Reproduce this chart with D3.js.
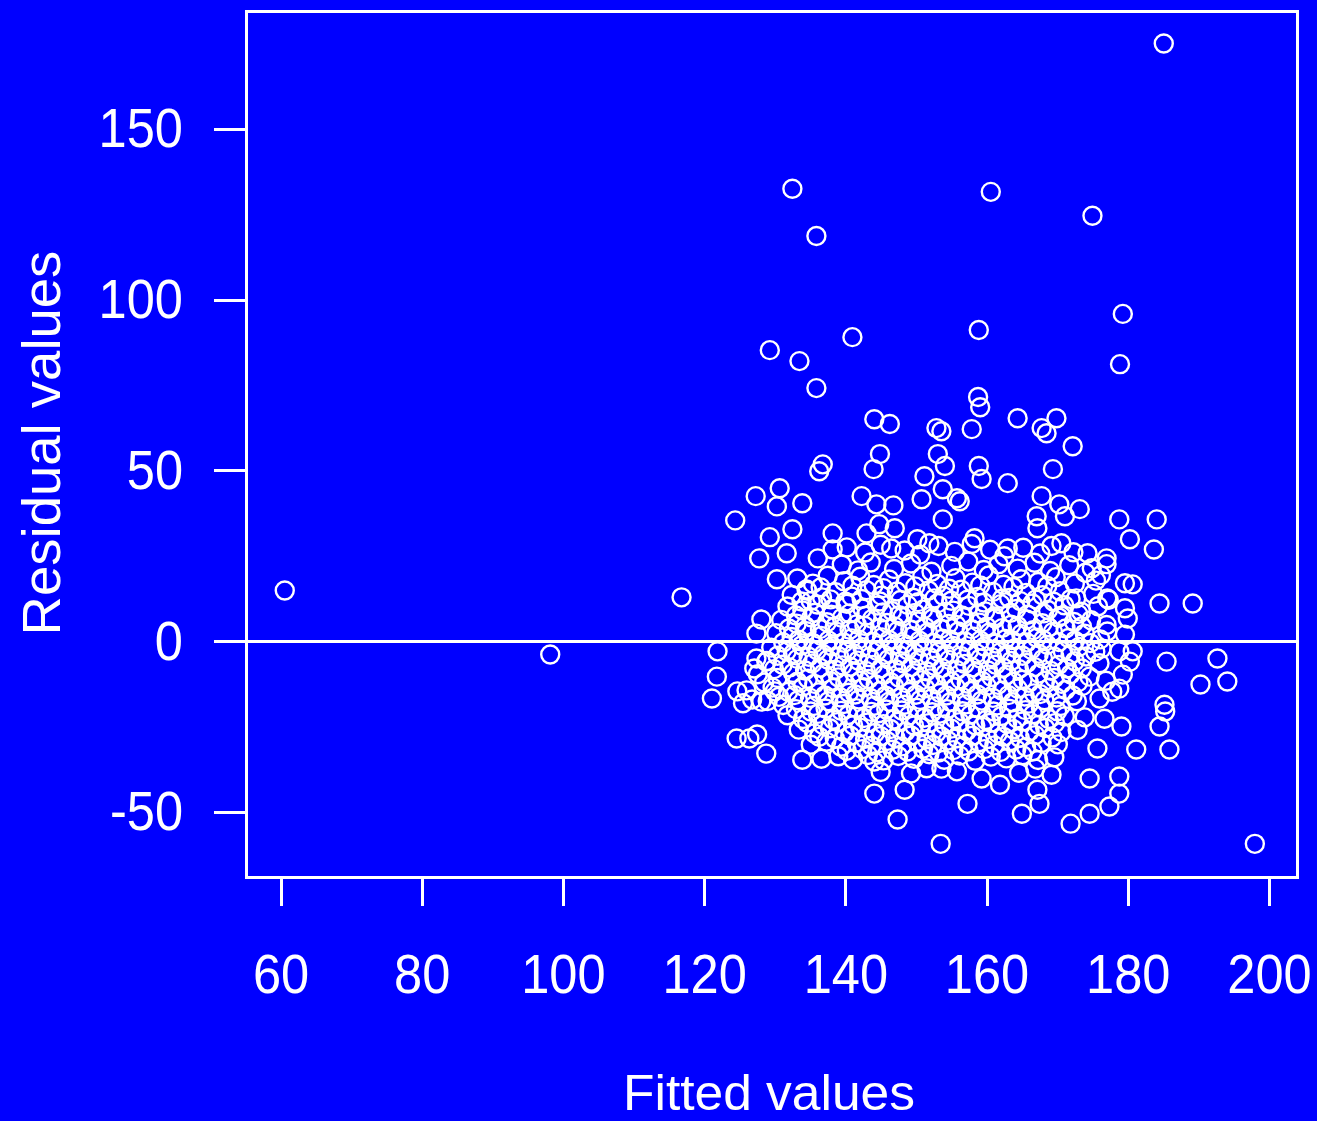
<!DOCTYPE html>
<html>
<head>
<meta charset="utf-8">
<script src="https://cdn.jsdelivr.net/npm/d3@7"></script>
<style>
  html, body { margin: 0; padding: 0; background: #0000ff; overflow: hidden; }
  svg { display: block; }
  text { font-family: "Liberation Sans", Arial, Helvetica, sans-serif; fill: #ffffff; }
</style>
</head>
<body>
<svg id="chart" width="1317" height="1121"></svg>
<script>
// Residuals vs fitted values: each pair is [fitted, residual].

const fittedTicks = [60, 80, 100, 120, 140, 160, 180, 200];
const residualTicks = [-50, 0, 50, 100, 150];

// isolated observations far from the main cloud
const outlierPoints = [
  [60.6, 14.9], [98.2, -3.8], [116.8, 12.9], [185.1, 174.9], [132.5, 132.4],
  [160.6, 131.5], [135.9, 118.6], [175.0, 124.5], [179.3, 95.8], [158.9, 91.1],
  [141.0, 89.0], [129.3, 85.2], [133.5, 82.0], [178.9, 81.1], [135.9, 74.1],
  [158.8, 71.5], [159.1, 68.5], [198.0, -59.2], [153.5, -59.2]
];

// sparse band above the cloud (residual 20 to 70)
const upperPoints = [
  [144.1, 65.0], [146.3, 63.6], [152.9, 62.4], [153.6, 61.5], [157.9, 62.1],
  [164.4, 65.3], [169.9, 65.3], [167.8, 62.4], [168.5, 60.9], [172.2, 57.1],
  [144.9, 54.8], [144.0, 50.4], [136.8, 51.8], [136.3, 49.8], [153.1, 54.8],
  [154.1, 51.3], [158.9, 51.3], [159.3, 47.5], [151.2, 48.3], [163.0, 46.3],
  [169.4, 50.4], [130.7, 44.8], [127.3, 42.5], [130.3, 39.5], [133.9, 40.4],
  [142.3, 42.5], [144.4, 40.1], [150.8, 41.6], [153.8, 44.5], [155.8, 41.9],
  [156.2, 41.0], [146.8, 39.8], [167.8, 42.5], [170.3, 40.1], [167.1, 36.6],
  [171.1, 36.6], [124.4, 35.4], [153.8, 35.7], [147.0, 33.1], [167.2, 33.1],
  [129.3, 30.5], [132.5, 32.8], [138.2, 31.6], [143.0, 31.6], [144.8, 34.3],
  [150.2, 29.9], [151.9, 28.7], [158.3, 30.2], [163.0, 27.2], [170.6, 28.7],
  [146.5, 27.2], [127.8, 24.3], [131.7, 25.8], [138.2, 26.9], [136.1, 24.3],
  [173.2, 38.7], [178.8, 35.7], [184.1, 35.7], [180.3, 29.9], [183.7, 26.9],
  [174.3, 25.8], [177.0, 24.3],
  [140.2, 27.5], [142.8, 26.0], [145.0, 28.3], [148.4, 26.6], [150.6, 25.4],
  [153.2, 27.9], [155.5, 26.2], [157.9, 28.5], [160.5, 26.8], [162.5, 24.9],
  [165.2, 27.4], [167.6, 25.7], [169.2, 27.9], [172.3, 26.1]
];

// dense central cloud (residual about -40 to 22)
const corePoints = [
  [139.5, 22.5], [141.8, 20.8], [143.6, 23.1], [146.9, 21.2], [149.3, 22.8], [152.2, 20.4],
  [155.0, 22.1], [157.4, 23.4], [159.6, 20.9], [161.7, 22.6], [164.4, 21.3], [166.8, 23.0],
  [169.0, 20.6], [171.7, 22.3], [174.0, 20.1], [176.2, 19.4],

  [133.2, 18.4], [135.4, 16.9], [137.5, 19.2], [139.8, 17.6], [142.1, 18.9], [144.0, 16.5],
  [146.2, 18.1], [148.5, 17.0], [150.9, 19.0], [153.0, 16.8], [155.6, 18.5], [158.0, 17.2],
  [160.3, 19.3], [162.4, 16.6], [164.9, 18.2], [167.3, 17.4], [169.8, 18.8], [172.5, 16.9],
  [175.5, 17.8],

  [132.4, 13.6], [134.6, 14.8], [136.7, 12.9], [138.6, 14.4], [140.9, 13.1], [143.0, 15.0],
  [145.1, 13.4], [147.3, 14.6], [149.6, 12.8], [151.8, 14.9], [153.9, 13.3], [156.4, 15.1],
  [158.7, 13.0], [160.9, 14.5], [163.2, 12.7], [165.6, 14.2], [167.9, 13.5], [170.4, 14.7],
  [172.7, 12.6], [175.1, 13.9], [177.3, 12.2],

  [131.8, 10.2], [133.9, 9.1], [136.0, 10.8], [138.1, 9.4], [140.2, 11.0], [142.4, 9.6],
  [144.5, 10.5], [146.6, 8.9], [148.8, 10.7], [151.0, 9.3], [153.1, 11.2], [155.3, 9.0],
  [157.5, 10.4], [159.8, 8.8], [162.0, 10.9], [164.2, 9.5], [166.5, 11.1], [168.7, 9.2],
  [171.0, 10.6], [173.4, 8.7], [175.8, 10.3],

  [130.9, 6.3], [133.1, 5.2], [135.2, 7.0], [137.4, 5.6], [139.5, 6.9], [141.6, 5.0],
  [143.8, 6.6], [145.9, 5.4], [148.1, 7.2], [150.3, 5.8], [152.4, 6.8], [154.6, 5.1],
  [156.8, 7.1], [159.0, 5.5], [161.2, 6.7], [163.5, 4.9], [165.7, 6.4], [167.9, 5.3],
  [170.2, 7.0], [172.4, 5.7], [174.8, 6.2], [177.0, 4.8],

  [130.2, 2.4], [132.4, 1.3], [134.5, 3.0], [136.6, 1.6], [138.8, 2.8], [140.9, 0.9],
  [143.1, 2.5], [145.2, 1.2], [147.4, 3.1], [149.5, 1.5], [151.7, 2.7], [153.8, 0.8],
  [156.0, 2.9], [158.2, 1.4], [160.4, 2.6], [162.7, 0.7], [164.9, 2.2], [167.1, 1.1],
  [169.4, 2.8], [171.6, 1.0], [173.9, 2.3], [176.1, 0.6],

  [129.5, -1.8], [131.7, -2.9], [133.8, -1.2], [136.0, -2.6], [138.1, -1.4], [140.2, -3.0],
  [142.4, -1.7], [144.5, -2.8], [146.7, -1.1], [148.8, -2.5], [151.0, -1.6], [153.2, -3.1],
  [155.3, -1.3], [157.5, -2.7], [159.7, -1.5], [161.9, -3.2], [164.1, -1.9], [166.3, -2.4],
  [168.6, -1.0], [170.8, -2.9], [173.1, -1.6], [175.4, -3.0],

  [128.9, -5.7], [131.1, -6.8], [133.2, -5.1], [135.3, -6.5], [137.5, -5.3], [139.6, -7.0],
  [141.8, -5.6], [143.9, -6.9], [146.1, -5.2], [148.2, -6.4], [150.4, -5.5], [152.6, -7.1],
  [154.7, -5.4], [156.9, -6.6], [159.1, -5.0], [161.3, -6.8], [163.5, -5.7], [165.7, -6.3],
  [168.0, -5.1], [170.2, -6.9], [172.5, -5.8], [176.0, -6.4],

  [127.6, -9.6], [130.4, -10.7], [132.6, -9.2], [134.7, -10.9], [136.9, -9.4], [139.0, -10.5],
  [141.2, -9.1], [143.3, -11.0], [145.5, -9.7], [147.6, -10.6], [149.8, -9.3], [152.0, -10.8],
  [154.1, -9.5], [156.3, -11.1], [158.5, -9.0], [160.7, -10.4], [162.9, -9.8], [165.1, -11.2],
  [167.4, -9.4], [169.6, -10.7], [171.9, -9.6], [176.9, -11.5],

  [126.0, -14.3], [129.7, -13.5], [131.9, -14.7], [134.0, -13.2], [136.2, -14.9], [138.3, -13.6],
  [140.5, -15.0], [142.6, -13.4], [144.8, -14.6], [146.9, -13.1], [149.1, -14.8], [151.3, -13.7],
  [153.4, -15.1], [155.6, -13.3], [157.8, -14.5], [160.0, -13.0], [162.2, -14.4], [164.4, -13.8],
  [166.7, -15.2], [168.9, -13.5], [171.2, -14.2], [173.6, -13.0], [177.8, -14.7],

  [125.5, -18.1], [129.0, -17.4], [131.2, -18.6], [133.3, -17.2], [135.5, -18.9], [137.6, -17.5],
  [139.8, -18.3], [141.9, -17.0], [144.1, -18.8], [146.2, -17.6], [148.4, -18.5], [150.6, -17.1],
  [152.7, -19.0], [154.9, -17.7], [157.1, -18.4], [159.3, -17.3], [161.5, -18.7], [163.7, -17.8],
  [166.0, -18.2], [168.2, -17.2], [170.5, -18.9], [172.8, -17.5],

  [131.8, -21.6], [134.0, -22.7], [136.1, -21.2], [138.3, -22.9], [140.4, -21.5], [142.6, -22.4],
  [144.7, -21.0], [146.9, -22.8], [149.0, -21.7], [151.2, -22.3], [153.4, -21.1], [155.5, -22.6],
  [157.7, -21.4], [159.9, -23.0], [162.1, -21.8], [164.3, -22.5], [166.6, -21.3], [168.8, -22.7],
  [171.1, -21.9], [173.9, -22.2],

  [133.4, -25.8], [135.6, -26.9], [137.8, -25.4], [139.9, -26.6], [142.1, -25.2], [144.2, -26.8],
  [146.4, -25.6], [148.5, -26.4], [150.7, -25.1], [152.9, -26.7], [155.0, -25.5], [157.2, -26.2],
  [159.4, -25.0], [161.6, -26.9], [163.8, -25.7], [166.1, -26.3], [168.3, -25.3], [170.6, -26.5],
  [172.9, -25.9],

  [135.1, -30.2], [137.3, -29.3], [139.4, -30.8], [141.6, -29.6], [143.7, -30.5], [145.9, -29.1],
  [148.0, -30.7], [150.2, -29.4], [152.4, -30.3], [154.5, -29.0], [156.7, -30.6], [158.9, -29.5],
  [161.1, -30.4], [163.3, -29.2], [165.6, -30.9], [167.8, -29.7], [170.1, -30.1],

  [139.0, -33.6], [141.1, -34.5], [143.2, -33.2], [145.4, -34.8], [147.5, -33.5], [149.7, -34.3],
  [151.9, -33.0], [154.0, -34.6], [156.2, -33.4], [158.4, -34.9], [160.6, -33.7], [162.8, -34.2],
  [165.1, -33.3], [167.3, -34.7], [169.6, -33.9],

  [145.0, -38.2], [149.3, -38.6], [151.5, -37.1], [155.8, -38.0], [164.6, -38.4], [166.9, -37.2]
];

// additional observations packed between the rows of the central cloud
const coreFillPoints = [
  [136.5, 15.8], [141.0, 16.3], [145.4, 15.6], [149.9, 16.1], [154.7, 15.4], [159.1, 16.4],
  [163.8, 15.9], [168.6, 16.2],

  [135.1, 11.8], [137.9, 12.3], [140.0, 11.6], [142.3, 12.4], [144.9, 11.7], [147.8, 12.1],
  [150.3, 11.5], [152.6, 12.6], [155.0, 11.9], [157.3, 12.2], [159.6, 11.4], [162.2, 12.5],
  [164.8, 11.8], [167.0, 12.3], [169.5, 11.6], [171.9, 12.4],

  [133.0, 7.6], [135.7, 8.4], [138.0, 7.8], [140.6, 8.2], [142.9, 7.5], [145.3, 8.5],
  [147.6, 7.7], [149.9, 8.3], [152.1, 7.4], [154.2, 8.6], [156.5, 7.6], [158.9, 8.1],
  [161.1, 7.3], [163.4, 8.4], [165.8, 7.8], [168.1, 8.2], [170.6, 7.5], [173.0, 8.0],

  [132.0, 3.8], [134.3, 4.5], [136.4, 3.6], [138.5, 4.3], [140.6, 3.4], [142.7, 4.6],
  [144.9, 3.9], [147.0, 4.4], [149.2, 3.5], [151.3, 4.2], [153.5, 3.7], [155.7, 4.8],
  [157.9, 3.6], [160.0, 4.3], [162.2, 3.9], [164.4, 4.5], [166.6, 3.3], [168.8, 4.1],
  [171.2, 3.8], [173.5, 4.4],

  [131.2, -0.3], [133.4, 0.5], [135.5, -0.6], [137.6, 0.3], [139.8, -0.4], [141.9, 0.6],
  [144.0, -0.2], [146.2, 0.4], [148.3, -0.7], [150.5, 0.2], [152.6, -0.5], [154.8, 0.6],
  [157.0, -0.1], [159.1, 0.3], [161.3, -0.6], [163.5, 0.4], [165.7, -0.3], [168.0, 0.5],
  [170.2, -0.2], [172.5, 0.2], [174.7, -0.5],

  [130.4, -4.2], [132.6, -3.6], [134.8, -4.5], [136.9, -3.8], [139.1, -4.4], [141.2, -3.5],
  [143.4, -4.6], [145.5, -3.9], [147.7, -4.1], [149.8, -3.4], [152.0, -4.7], [154.2, -3.7],
  [156.4, -4.3], [158.6, -3.5], [160.8, -4.6], [162.9, -3.8], [165.1, -4.2], [167.4, -3.6],
  [169.6, -4.5], [171.9, -3.9], [174.1, -4.4],

  [129.9, -8.1], [132.1, -7.6], [134.3, -8.5], [136.4, -7.7], [138.6, -8.3], [140.7, -7.4],
  [142.9, -8.6], [145.0, -7.9], [147.2, -8.2], [149.3, -7.5], [151.5, -8.7], [153.7, -7.8],
  [155.8, -8.4], [158.0, -7.6], [160.2, -8.5], [162.4, -7.7], [164.6, -8.1], [166.8, -7.5],
  [169.1, -8.6], [171.4, -7.9],

  [128.5, -12.0], [133.2, -11.8], [135.6, -12.4], [137.9, -11.6], [140.0, -12.3], [142.1, -11.5],
  [144.3, -12.6], [146.4, -11.9], [148.6, -12.2], [150.7, -11.4], [152.9, -12.5], [155.0, -11.7],
  [157.2, -12.3], [159.4, -11.6], [161.6, -12.7], [163.8, -11.8], [166.0, -12.1], [168.3, -11.5],
  [170.6, -12.4], [173.0, -11.9],

  [130.6, -16.2], [132.8, -15.7], [135.0, -16.5], [137.1, -15.8], [139.3, -16.4], [141.4, -15.5],
  [143.6, -16.6], [145.7, -15.9], [147.9, -16.3], [150.0, -15.6], [152.2, -16.7], [154.3, -15.8],
  [156.5, -16.2], [158.7, -15.5], [160.9, -16.5], [163.1, -15.7], [165.4, -16.1], [167.6, -15.4],
  [169.9, -16.4], [172.2, -15.8],

  [133.0, -19.8], [135.1, -20.5], [137.2, -19.6], [139.4, -20.3], [141.5, -19.5], [143.7, -20.6],
  [145.8, -19.9], [148.0, -20.2], [150.1, -19.4], [152.3, -20.7], [154.4, -19.8], [156.6, -20.4],
  [158.8, -19.6], [161.0, -20.5], [163.2, -19.7], [165.5, -20.1], [167.7, -19.5], [170.0, -20.4],

  [134.6, -23.8], [136.8, -24.4], [138.9, -23.6], [141.1, -24.5], [143.2, -23.7], [145.4, -24.2],
  [147.5, -23.5], [149.7, -24.6], [151.8, -23.9], [154.0, -24.3], [156.2, -23.6], [158.4, -24.5],
  [160.6, -23.8], [162.9, -24.1], [165.1, -23.4], [167.4, -24.4], [169.7, -23.9],

  [136.3, -27.9], [138.5, -28.4], [140.7, -27.6], [142.8, -28.5], [145.0, -27.7], [147.1, -28.2],
  [149.3, -27.5], [151.5, -28.6], [153.6, -27.8], [155.8, -28.3], [158.0, -27.6], [160.2, -28.5],
  [162.4, -27.9], [164.7, -28.2], [166.9, -27.4], [169.3, -28.1],

  [140.2, -32.0], [142.4, -31.5], [144.5, -32.4], [146.7, -31.7], [148.8, -32.2], [151.0, -31.4],
  [153.2, -32.5], [155.3, -31.8], [157.5, -32.1], [159.7, -31.5], [162.0, -32.3], [164.2, -31.6],
  [166.5, -32.2]
];

// left and right fringes of the cloud
const leftEdgePoints = [
  [130.3, 18.2], [128.1, 6.4], [127.4, 2.3], [121.9, -2.9], [127.1, -7.9], [121.8, -10.3],
  [121.1, -16.7], [124.7, -14.6], [128.1, -17.6], [134.5, 15.2], [133.8, 11.7], [124.6, -28.4],
  [126.4, -28.4], [127.5, -27.2], [128.8, -32.8], [133.9, -34.6], [136.6, -34.3], [126.8, -17.0],
  [130.0, -14.6], [127.4, -5.0], [128.8, -5.9], [144.1, -35.1], [144.1, -44.5]
];

const rightEdgePoints = [
  [184.5, 11.1], [189.2, 11.1], [185.5, -5.9], [192.7, -5.0], [190.3, -12.6], [194.1, -11.7],
  [185.2, -18.5], [179.6, 17.0], [180.7, 16.7], [174.9, 21.4], [177.0, 22.6], [177.1, 12.6],
  [179.6, 9.7], [180.0, 6.7], [177.1, 2.9], [179.6, 2.0], [176.3, -2.1], [178.8, -2.9],
  [180.7, -2.9], [180.3, -5.9], [173.5, -7.9], [174.6, -10.3], [179.3, -9.7], [178.8, -13.8],
  [176.0, -16.7], [184.5, -24.9], [185.3, -20.5], [185.9, -31.6], [181.2, -31.6], [179.1, -24.9],
  [176.7, -22.6], [175.7, -31.3], [174.6, -40.1], [178.8, -39.5], [178.8, -44.5], [177.4, -48.3],
  [174.6, -50.4], [171.9, -53.3]
];

// sparse band below the cloud
const lowerPoints = [
  [148.4, -43.4], [153.6, -37.2], [159.3, -40.1], [161.9, -41.9], [167.2, -43.4], [169.2, -39.0],
  [157.3, -47.5], [167.5, -47.5], [147.4, -52.1], [165.0, -50.4]
];

const points = [].concat(outlierPoints, upperPoints, corePoints, coreFillPoints,
  leftEdgePoints, rightEdgePoints, lowerPoints);

// plot frame
const box = { left: 246, right: 1297, top: 11, bottom: 877 };

const x = d3.scaleLinear().domain([55.11, 203.97]).range([box.left, box.right]);
const y = d3.scaleLinear().domain([-68.9, 184.4]).range([box.bottom, box.top]);

const svg = d3.select("#chart");

svg.append("rect")
  .attr("x", 0).attr("y", 0).attr("width", 1317).attr("height", 1121)
  .attr("fill", "#0000ff");

// zero reference line
svg.append("line")
  .attr("x1", box.left).attr("x2", box.right)
  .attr("y1", y(0)).attr("y2", y(0))
  .attr("stroke", "#ffffff").attr("stroke-width", 2.5)
  .attr("shape-rendering", "crispEdges");

// observations as open circles
svg.append("g")
  .selectAll("circle")
  .data(points)
  .join("circle")
  .attr("cx", d => x(d[0]))
  .attr("cy", d => y(d[1]))
  .attr("r", 9)
  .attr("fill", "none")
  .attr("stroke", "#ffffff")
  .attr("stroke-width", 2.4);

// frame
svg.append("rect")
  .attr("x", box.left).attr("y", box.top)
  .attr("width", box.right - box.left).attr("height", box.bottom - box.top)
  .attr("fill", "none").attr("stroke", "#ffffff").attr("stroke-width", 3)
  .attr("shape-rendering", "crispEdges");

const labelSize = 55;
const squeeze = 0.92;
const plainNumber = d => String(d);

// x axis
const xAxis = svg.append("g")
  .attr("transform", `translate(0,${box.bottom})`)
  .call(d3.axisBottom(x).tickValues(fittedTicks).tickSize(29).tickPadding(48).tickFormat(plainNumber));
xAxis.select(".domain").remove();
xAxis.selectAll(".tick line").attr("stroke", "#ffffff").attr("stroke-width", 3).attr("shape-rendering", "crispEdges");
xAxis.selectAll(".tick text")
  .attr("fill", "#ffffff")
  .style("font-size", labelSize + "px")
  .attr("transform", `scale(${squeeze},1)`);

// y axis
const yAxis = svg.append("g")
  .attr("transform", `translate(${box.left},0)`)
  .call(d3.axisLeft(y).tickValues(residualTicks).tickSize(32).tickPadding(31).tickFormat(plainNumber));
yAxis.select(".domain").remove();
yAxis.selectAll(".tick line").attr("stroke", "#ffffff").attr("stroke-width", 3).attr("shape-rendering", "crispEdges");
yAxis.selectAll(".tick text")
  .attr("fill", "#ffffff")
  .style("font-size", labelSize + "px")
  .attr("x", -63 / squeeze)
  .attr("transform", `scale(${squeeze},1)`);

// axis titles
svg.append("text")
  .attr("x", 769)
  .attr("y", 1110)
  .attr("text-anchor", "middle")
  .attr("textLength", 292)
  .attr("lengthAdjust", "spacingAndGlyphs")
  .style("font-size", "50px")
  .text("Fitted values");

svg.append("text")
  .attr("transform", `translate(60,${(box.top + box.bottom) / 2 - 1}) rotate(-90)`)
  .attr("text-anchor", "middle")
  .style("font-size", "54.5px")
  .text("Residual values");
</script>
</body>
</html>
